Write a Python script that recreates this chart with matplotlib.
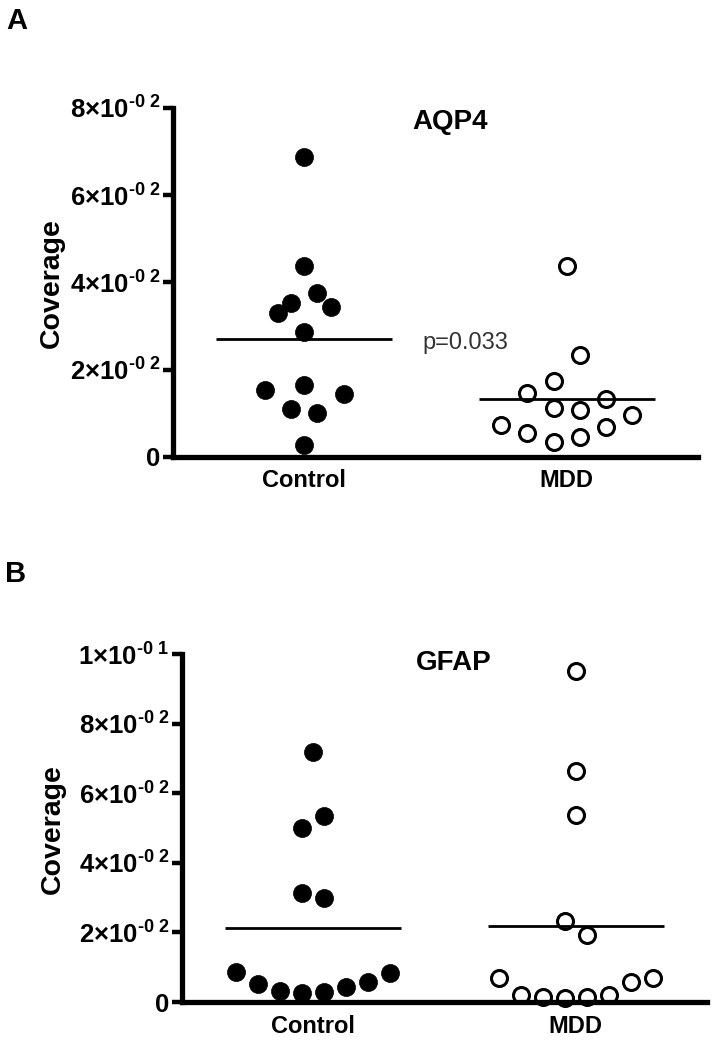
import numpy as np
import matplotlib
matplotlib.use("Agg")
import matplotlib.pyplot as plt

plt.rcParams['font.family'] = ['Liberation Sans', 'DejaVu Sans']
plt.rcParams['mathtext.fontset'] = 'custom'
plt.rcParams['mathtext.rm'] = 'Liberation Sans:bold'
plt.rcParams['mathtext.it'] = 'Liberation Sans:bold'
plt.rcParams['mathtext.bf'] = 'Liberation Sans:bold'
plt.rcParams['mathtext.sf'] = 'Liberation Sans:bold'

# ---------------- data ----------------
groups = ["Control", "MDD"]

# Panel A: AQP4 coverage
aqp4_control = [0.0688, 0.0438, 0.0376, 0.0353, 0.0344, 0.0330, 0.0287,
                0.0154, 0.0165, 0.0144, 0.0110, 0.0101, 0.0028]
aqp4_control_jitter = [0, 0, 1, -1, 2, -2, 0, -3, 0, 3, -1, 1, 0]
aqp4_mdd = [0.0438, 0.0234, 0.0174, 0.0147, 0.0133, 0.0112, 0.0108,
            0.0096, 0.0073, 0.0069, 0.0055, 0.0046, 0.0034]
aqp4_mdd_jitter = [0, 1, -1, -3, 3, -1, 1, 5, -5, 3, -3, 1, -1]
aqp4_yticks = [0, 0.02, 0.04, 0.06, 0.08]
aqp4_yticklabels = ["0", "$2{\u00d7}10^{\u2010 0\\ 2}$", "$4{\u00d7}10^{\u2010 0\\ 2}$",
                    "$6{\u00d7}10^{\u2010 0\\ 2}$", "$8{\u00d7}10^{\u2010 0\\ 2}$"]
aqp4_pvalue = "p=0.033"

# Panel B: GFAP coverage
gfap_control = [0.0718, 0.0534, 0.0500, 0.0313, 0.0299, 0.0086, 0.0052,
                0.0032, 0.0026, 0.0029, 0.0043, 0.0057, 0.0083]
gfap_control_jitter = [0, 1, -1, -1, 1, -7, -5, -3, -1, 1, 3, 5, 7]
gfap_mdd = [0.0951, 0.0664, 0.0537, 0.0233, 0.0193, 0.0069, 0.0020,
            0.0014, 0.0012, 0.0014, 0.0020, 0.0057, 0.0069]
gfap_mdd_jitter = [0, 0, 0, -1, 1, -7, -5, -3, -1, 1, 3, 5, 7]
gfap_yticks = [0, 0.02, 0.04, 0.06, 0.08, 0.10]
gfap_yticklabels = ["0", "$2{\u00d7}10^{\u2010 0\\ 2}$", "$4{\u00d7}10^{\u2010 0\\ 2}$",
                    "$6{\u00d7}10^{\u2010 0\\ 2}$", "$8{\u00d7}10^{\u2010 0\\ 2}$",
                    "$1{\u00d7}10^{\u2010 0\\ 1}$"]

# ---------------- figure ----------------
fig = plt.figure(figsize=(7.14, 10.5), dpi=100)
axA = fig.add_axes([0.2423, 0.5648, 0.7353, 0.3324])
axB = fig.add_axes([0.2549, 0.0457, 0.7353, 0.3314])


def draw_panel(ax, ctrl, ctrl_j, mdd, mdd_j, step, yticks, ylabels, title, title_xy):
    xc = 1 + np.array(ctrl_j) * step
    xm = 2 + np.array(mdd_j) * step
    ax.plot(xc, ctrl, linestyle='none', marker='o', ms=13, mfc='black',
            mec='black', mew=0.5, clip_on=False, zorder=2)
    ax.plot(xm, mdd, linestyle='none', marker='o', ms=11.5, mfc='white',
            mec='black', mew=2.2, clip_on=False, zorder=2)
    for pos, vals in zip([1, 2], [ctrl, mdd]):
        m = np.mean(vals)
        ax.plot([pos - 0.335, pos + 0.335], [m, m], color='black', lw=2.0,
                solid_capstyle='butt', zorder=3)
    ax.set_xlim(0.5, 2.5)
    ax.set_ylim(0, yticks[-1])
    ax.set_xticks([1, 2])
    ax.set_xticklabels(groups, fontsize=17, fontweight='bold')
    ax.set_yticks(yticks)
    ax.set_yticklabels(ylabels, fontsize=18.5, fontweight='bold')
    ax.tick_params(axis='x', length=0, pad=9)
    ax.tick_params(axis='y', length=7, width=3.2, pad=2, direction='out')
    for s in ['top', 'right']:
        ax.spines[s].set_visible(False)
    for s in ['left', 'bottom']:
        ax.spines[s].set_linewidth(3.8)
        ax.spines[s].set_capstyle('projecting')
    ax.text(title_xy[0], title_xy[1], title, transform=ax.transAxes,
            ha='center', va='center', fontsize=20, fontweight='bold')


draw_panel(axA, aqp4_control, aqp4_control_jitter, aqp4_mdd, aqp4_mdd_jitter,
           0.05, aqp4_yticks, aqp4_yticklabels, "AQP4", (0.528, 0.960))
draw_panel(axB, gfap_control, gfap_control_jitter, gfap_mdd, gfap_mdd_jitter,
           0.042, gfap_yticks, gfap_yticklabels, "GFAP", (0.518, 0.974))

axA.text(0.476, 0.327, aqp4_pvalue, transform=axA.transAxes, ha='left',
         va='center', fontsize=17, color='#333333')

fig.text(52 / 714, 1 - 283 / 1050, "Coverage", rotation=90, ha='center',
         va='center', fontsize=20.5, fontweight='bold')
fig.text(53 / 714, 1 - 829 / 1050, "Coverage", rotation=90, ha='center',
         va='center', fontsize=20.5, fontweight='bold')

fig.text(17 / 714, 1 - 21 / 1050, "A", ha='center', va='center',
         fontsize=21, fontweight='bold')
fig.text(16 / 714, 1 - 574 / 1050, "B", ha='center', va='center',
         fontsize=21, fontweight='bold')

fig.savefig("out.png", dpi=100)
